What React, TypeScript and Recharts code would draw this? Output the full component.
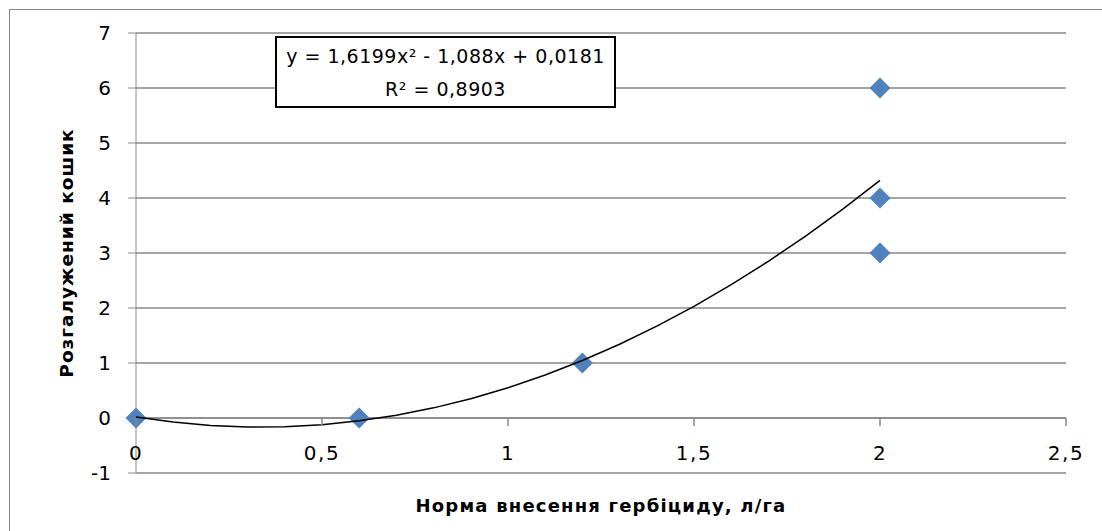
import { ScatterChart, Scatter, XAxis, YAxis, CartesianGrid, ReferenceLine, Label } from "recharts";

// measured points (x = herbicide rate, y = branched baskets)
const rateX = [0, 0.6, 1.2, 2, 2, 2];
const basketsY = [0, 0, 1, 6, 4, 3];

const xTicks = [0, 0.5, 1, 1.5, 2, 2.5];
const yTicks = [-1, 0, 1, 2, 3, 4, 5, 6, 7];

// polynomial trendline from the label: a*x^2 + b*x + c
const trendCoef = [1.6199, -1.088, 0.0181];
const trendX = [0, 0.1, 0.2, 0.3, 0.4, 0.5, 0.6, 0.7, 0.8, 0.9, 1, 1.1, 1.2, 1.3, 1.4, 1.5, 1.6, 1.7, 1.8, 1.9, 2];

const equationText = "y = 1,6199x² - 1,088x + 0,0181";
const r2Text = "R² = 0,8903";
const xTitle = "Норма внесення гербіциду, л/га";
const yTitle = "Розгалужений кошик";

const points = rateX.map((x, i) => ({ x, y: basketsY[i] }));
const trend = trendX.map((x) => ({
  x,
  y: trendCoef[0] * x * x + trendCoef[1] * x + trendCoef[2],
}));

const AXIS = "#888888";
const FONT = "'DejaVu Sans', sans-serif";
const W = 1092;
const H = 521;
const TOP = 23;
const X_AXIS_H = 58;
const UNIT = (H - TOP - X_AXIS_H) / (yTicks[yTicks.length - 1] - yTicks[0]);

const fmt = (v: number) => String(v).replace(".", ",");

const Diamond = (props: any) => {
  const { cx, cy } = props;
  const r = 10.5;
  return (
    <polygon
      points={`${cx},${cy - r} ${cx + r},${cy} ${cx},${cy + r} ${cx - r},${cy}`}
      fill="#4F81BD"
    />
  );
};

const XTick = (props: any) => {
  const { x, y, payload } = props;
  return (
    <g>
      <line x1={x} x2={x} y1={y - UNIT} y2={y - UNIT + 8} stroke={AXIS} strokeWidth={1.5} />
      <text
        x={x}
        y={y - 20}
        textAnchor="middle"
        dominantBaseline="central"
        fontSize={20}
        letterSpacing={1.5}
        fontFamily={FONT}
        fill="#000"
      >
        {fmt(payload.value)}
      </text>
    </g>
  );
};

export default function App() {
  return (
    <div
      style={{
        position: "absolute",
        left: 9,
        top: 9,
        width: W + 1,
        height: H + 1,
        boxSizing: "border-box",
        borderLeft: `1px solid ${AXIS}`,
        borderTop: `1px solid ${AXIS}`,
        background: "#fff",
      }}
    >
      <ScatterChart width={W} height={H} margin={{ top: TOP, right: 36, left: 0, bottom: 0 }}>
        <CartesianGrid vertical={false} stroke={AXIS} strokeWidth={1.5} />
        <XAxis
          type="number"
          dataKey="x"
          domain={[0, 2.5]}
          ticks={xTicks}
          axisLine={false}
          tickLine={false}
          tickSize={0}
          tickMargin={0}
          height={X_AXIS_H}
          tick={<XTick />}
          interval={0}
        >
          <Label
            content={(p: any) => {
              const vb = p.viewBox;
              return (
                <text
                  x={vb.x + vb.width / 2}
                  y={vb.y + 32}
                  textAnchor="middle"
                  dominantBaseline="central"
                  fontSize={18}
                  letterSpacing={1.2}
                  fontWeight="bold"
                  fontFamily={FONT}
                  fill="#000"
                >
                  {xTitle}
                </text>
              );
            }}
          />
        </XAxis>
        <YAxis
          type="number"
          dataKey="y"
          domain={[-1, 7]}
          ticks={yTicks}
          width={126}
          stroke={AXIS}
          tickSize={8}
          tickMargin={17}
          interval={0}
          tick={{ fontSize: 20, fontFamily: FONT, fill: "#000" }}
        >
          <Label
            content={(p: any) => {
              const vb = p.viewBox;
              const cx = vb.x + 56;
              const cy = vb.y + vb.height / 2;
              return (
                <text
                  x={cx}
                  y={cy}
                  transform={`rotate(-90 ${cx} ${cy})`}
                  textAnchor="middle"
                  dominantBaseline="central"
                  fontSize={18.5}
                  letterSpacing={1}
                  fontWeight="bold"
                  fontFamily={FONT}
                  fill="#000"
                >
                  {yTitle}
                </text>
              );
            }}
          />
        </YAxis>
        <ReferenceLine y={0} stroke={AXIS} strokeWidth={1.5} />
        <Scatter data={points} shape={<Diamond />} isAnimationActive={false} />
        <Scatter
          data={trend}
          line={{ stroke: "#000", strokeWidth: 1.5 }}
          shape={() => <g />}
          isAnimationActive={false}
        />
      </ScatterChart>
      <div
        style={{
          position: "absolute",
          left: 265,
          top: 26,
          width: 341,
          height: 72,
          boxSizing: "border-box",
          border: "2px solid #000",
          background: "#fff",
          fontFamily: FONT,
          fontSize: 19,
          letterSpacing: 0.5,
          lineHeight: "33px",
          textAlign: "center",
          paddingTop: 2,
          color: "#000",
        }}
      >
        <div>{equationText}</div>
        <div>{r2Text}</div>
      </div>
    </div>
  );
}
